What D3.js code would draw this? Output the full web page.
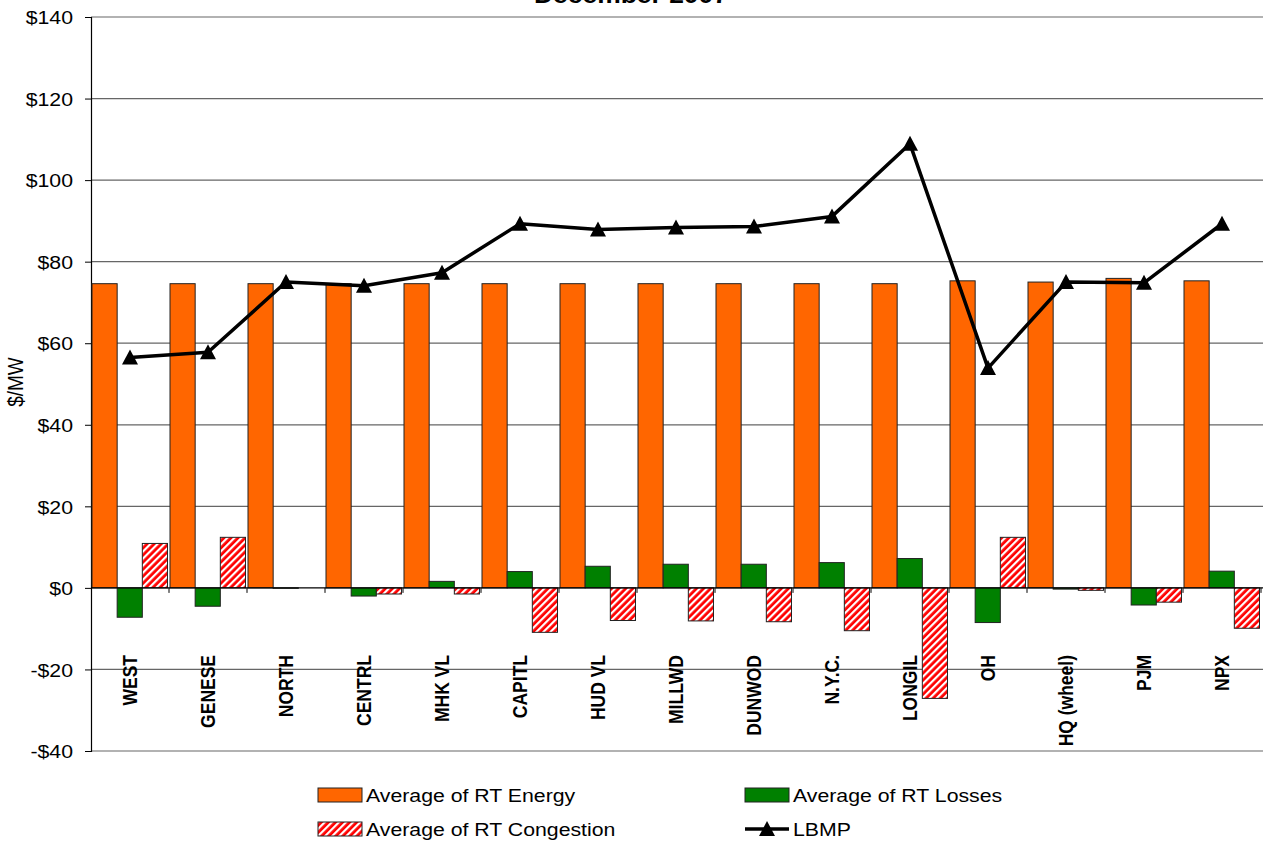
<!DOCTYPE html>
<html>
<head>
<meta charset="utf-8">
<script src="https://cdn.jsdelivr.net/npm/d3@7"></script>
<style>
  body { margin: 0; background: #fff; }
  svg text { font-family: Arial, "Liberation Sans", sans-serif; fill: #000; }
</style>
</head>
<body>
<svg id="chart" width="1263" height="841"></svg>
<script>
var zones = ["WEST", "GENESE", "NORTH", "CENTRL", "MHK VL", "CAPITL", "HUD VL", "MILLWD",
             "DUNWOD", "N.Y.C.", "LONGIL", "OH", "HQ (wheel)", "PJM", "NPX"];
var rtEnergy     = [74.6, 74.6, 74.6, 74.6, 74.6, 74.6, 74.6, 74.6, 74.6, 74.6, 74.6, 75.3, 75.0, 75.9, 75.3];
var rtLosses     = [-7.2, -4.5, -0.1, -2.0, 1.6, 4.0, 5.3, 5.8, 5.8, 6.2, 7.2, -8.5, -0.3, -4.2, 4.1];
var rtCongestion = [10.9, 12.4, 0.0, -1.5, -1.5, -10.9, -8.0, -8.1, -8.3, -10.5, -27.1, 12.4, -0.6, -3.5, -9.9];
var lbmp         = [56.5, 57.8, 75.0, 74.1, 77.3, 89.3, 87.9, 88.4, 88.6, 91.1, 108.9, 53.9, 75.0, 74.8, 89.3];
var yTicks = [-40, -20, 0, 20, 40, 60, 80, 100, 120, 140];

var ORANGE = "#ff6600", GREEN = "#008000", RED = "#ff0000";
var stretch = 1.15; // the original picture is a bit wider than tall

var svg = d3.select("#chart");

// red/white hatch for congestion
var defs = svg.append("defs");
var pat = defs.append("pattern")
    .attr("id", "hatch")
    .attr("patternUnits", "userSpaceOnUse")
    .attr("width", 5).attr("height", 5)
    .attr("patternTransform", "rotate(45)");
pat.append("rect").attr("width", 5).attr("height", 5).attr("fill", RED);
pat.append("rect").attr("width", 2.2).attr("height", 5).attr("fill", "#fff");

var x = d3.scaleBand().domain(zones).range([91, 1261]).padding(0);
var y = d3.scaleLinear().domain([-40, 140]).range([751, 17]);

var txt = function(sel, tx, ty, rot) {
    return sel.attr("transform", "translate(" + tx + "," + ty + ") scale(" + stretch + ",1)" + (rot ? " rotate(" + rot + ")" : ""));
};

// title (mostly cut off at top)
txt(svg.append("text"), 631, 3)
    .attr("text-anchor", "middle")
    .style("font-size", "23px").style("font-weight", "bold")
    .text("December 2007");

// gridlines
svg.append("g")
    .selectAll("line")
    .data(yTicks.filter(function(d) { return d !== 0; }))
    .enter().append("line")
    .attr("x1", 91).attr("x2", 1263)
    .attr("y1", function(d) { return y(d); })
    .attr("y2", function(d) { return y(d); })
    .attr("stroke", "#666").attr("stroke-width", 1.2);

// y axis
var yAxis = svg.append("g")
    .attr("transform", "translate(91,0)")
    .call(d3.axisLeft(y).tickValues(yTicks).tickSize(6).tickPadding(0)
        .tickFormat(function(d) { return (d < 0 ? "-$" : "$") + Math.abs(d); }));
yAxis.select(".domain").attr("stroke", "#000").attr("stroke-width", 1.2);
yAxis.selectAll(".tick line").attr("stroke", "#000");
yAxis.selectAll(".tick text").remove();
yAxis.selectAll(".tick").each(function(d) {
    txt(d3.select(this).append("text"), -18, 0)
        .attr("text-anchor", "end")
        .attr("dy", "0.36em")
        .style("font-size", "18.5px")
        .text((d < 0 ? "-$" : "$") + Math.abs(d));
});

txt(svg.append("text"), 15, 382, -90)
    .attr("text-anchor", "middle")
    .attr("dy", "0.36em")
    .style("font-size", "19px")
    .text("$/MW");

// bars
var series = [
    {name: "Average of RT Energy", values: rtEnergy, fill: ORANGE},
    {name: "Average of RT Losses", values: rtLosses, fill: GREEN},
    {name: "Average of RT Congestion", values: rtCongestion, fill: "url(#hatch)"}
];
var barW = x.bandwidth() / 3.1;

series.forEach(function(s, i) {
    svg.append("g")
        .selectAll("rect")
        .data(s.values)
        .enter().append("rect")
        .attr("x", function(d, j) { return x(zones[j]) + 1 + i * barW; })
        .attr("width", barW)
        .attr("y", function(d) { return Math.min(y(d), y(0)); })
        .attr("height", function(d) { return Math.abs(y(d) - y(0)); })
        .attr("fill", s.fill)
        .attr("stroke", "#222").attr("stroke-width", 1);
});

// zero axis with ticks between categories
svg.append("line")
    .attr("x1", 91).attr("x2", 1263)
    .attr("y1", y(0)).attr("y2", y(0))
    .attr("stroke", "#000").attr("stroke-width", 1.2);
svg.append("g")
    .selectAll("line")
    .data(zones)
    .enter().append("line")
    .attr("x1", function(d) { return x(d) + x.bandwidth(); })
    .attr("x2", function(d) { return x(d) + x.bandwidth(); })
    .attr("y1", y(0)).attr("y2", y(0) + 5)
    .attr("stroke", "#000");

// category labels
svg.append("g")
    .selectAll("text")
    .data(zones)
    .enter().append("text")
    .each(function(d) {
        txt(d3.select(this), x(d) + x.bandwidth() / 2, 655, -90);
    })
    .attr("text-anchor", "end")
    .attr("dy", "0.36em")
    .style("font-size", "17.5px").style("font-weight", "bold")
    .text(function(d) { return d; });

// LBMP line
var tri = "M0,-8L8,7L-8,7Z";
var line = d3.line()
    .x(function(d, i) { return x(zones[i]) + x.bandwidth() / 2; })
    .y(function(d) { return y(d); });
svg.append("path")
    .datum(lbmp)
    .attr("d", line)
    .attr("fill", "none")
    .attr("stroke", "#000").attr("stroke-width", 3.5)
    .attr("stroke-linejoin", "round");
svg.append("g")
    .selectAll("path")
    .data(lbmp)
    .enter().append("path")
    .attr("d", tri)
    .attr("transform", function(d, i) { return "translate(" + (x(zones[i]) + x.bandwidth() / 2) + "," + y(d) + ")"; })
    .attr("fill", "#000");

// legend
var legend = [
    {name: series[0].name, fill: ORANGE, lx: 318, ly: 788},
    {name: series[1].name, fill: GREEN, lx: 745, ly: 788},
    {name: series[2].name, fill: "url(#hatch)", lx: 318, ly: 822},
    {name: "LBMP", fill: null, lx: 745, ly: 822}
];
legend.forEach(function(l) {
    if (l.fill) {
        svg.append("rect")
            .attr("x", l.lx).attr("y", l.ly)
            .attr("width", 44).attr("height", 14)
            .attr("fill", l.fill)
            .attr("stroke", "#222");
    } else {
        svg.append("line")
            .attr("x1", l.lx).attr("x2", l.lx + 44)
            .attr("y1", l.ly + 7).attr("y2", l.ly + 7)
            .attr("stroke", "#000").attr("stroke-width", 3.5);
        svg.append("path")
            .attr("d", tri)
            .attr("transform", "translate(" + (l.lx + 22) + "," + (l.ly + 7) + ")")
            .attr("fill", "#000");
    }
    txt(svg.append("text"), l.lx + 48, l.ly + 14)
        .style("font-size", "18.5px")
        .text(l.name);
});
</script>
</body>
</html>
